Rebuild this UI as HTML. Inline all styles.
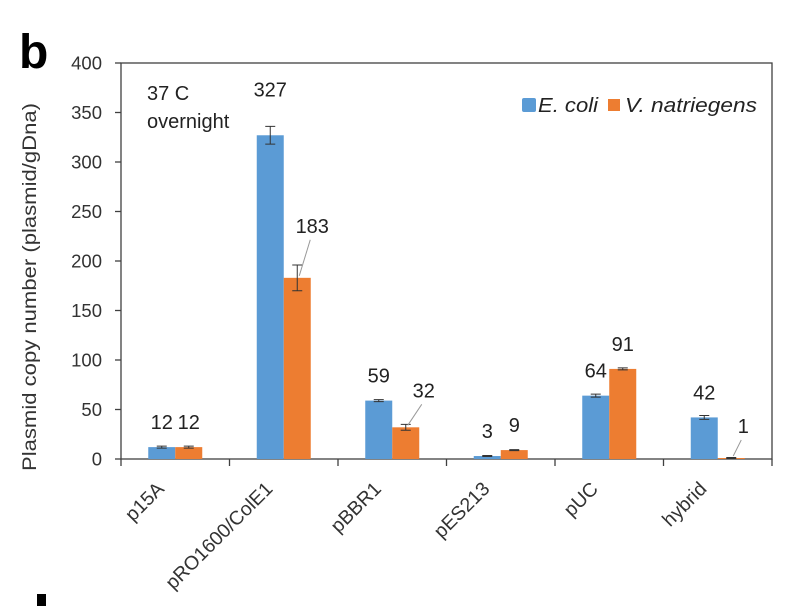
<!DOCTYPE html>
<html><head><meta charset="utf-8"><style>
html,body{margin:0;padding:0;background:#fff;}
svg{display:block;font-family:"Liberation Sans",Arial,sans-serif;}
</style></head><body>
<svg id="chart" width="812" height="606" viewBox="0 0 812 606" xmlns="http://www.w3.org/2000/svg">
<text x="19" y="68" font-size="48" font-weight="bold" fill="#000">b</text>
<rect x="37" y="594" width="9" height="12" fill="#000"/>
<g id="plot"></g>
</svg>
<script>
const categories = ["p15A","pRO1600/ColE1","pBBR1","pES213","pUC","hybrid"];
const ecoli = [12,327,59,3,64,42];
const vnat = [12,183,32,9,91,1];
const ecoliErr = [1,9,1,0.5,1.5,2];
const vnatErr = [1,13,3,0.5,1,0.5];
const ecoliLabels = ["12","327","59","3","64","42"];
const vnatLabels = ["12","183","32","9","91","1"];
const yTicks = [0,50,100,150,200,250,300,350,400];

const NS="http://www.w3.org/2000/svg";
const L=121,R=772,T=63,B=459,YMAX=400;
const g=document.getElementById('plot');
const y=v=>B-(v/YMAX)*(B-T);
const band=(R-L)/categories.length;
const cx=i=>L+band*(i+0.5);
const BW=27;
function mk(tag,attrs,parent){const e=document.createElementNS(NS,tag);for(const k in attrs)e.setAttribute(k,attrs[k]);(parent||g).appendChild(e);return e;}

const frame=mk('rect',{x:L,y:T,width:R-L,height:B-T,fill:'none',stroke:'#404040','stroke-width':1.3});



yTicks.forEach(v=>{
  const t=mk('line',{x1:L-6,x2:L,y1:y(v),y2:y(v),stroke:'#404040','stroke-width':1.3});
  
  
  const tx=mk('text',{x:L-19,y:y(v)+6.5,'text-anchor':'end','font-size':18.5,fill:'#333'});
  tx.textContent=v;
  
  
});
for(let i=0;i<=categories.length;i++){
  const x=L+band*i;
  const t=mk('line',{x1:x,x2:x,y1:B,y2:B+7,stroke:'#404040','stroke-width':1.3});
  
  
}
const yt=mk('text',{x:0,y:0,'text-anchor':'middle','font-size':19,fill:'#333',textLength:368,lengthAdjust:'spacingAndGlyphs',transform:`translate(36,287) rotate(-90)`});
yt.textContent='Plasmid copy number (plasmid/gDna)';



function bar(i,v,err,lbl,color,xoff,name){
  const x0=cx(i)+xoff;
  const r=mk('rect',{x:x0,y:y(v),width:BW,height:B-y(v),fill:color});
  
  
  const mx=x0+BW/2;
  const e=mk('path',{d:`M${mx},${y(v+err)}V${y(v-err)}M${mx-5},${y(v+err)}H${mx+5}M${mx-5},${y(v-err)}H${mx+5}`,stroke:'#333','stroke-width':1,fill:'none'});
  
  
  let ly=y(v)-18, lx=mx, leader=false;
  if(xoff<0 && err>5){ ly=y(v+err)-30; }
  if(xoff>=0){
    if(v>150){ lx=mx+15; ly=y(v)-45; leader=true; }
    else if(v>20 && v<40){ lx=mx+18; ly=y(v)-30; leader=true; }
    else if(v<3){ lx=mx+12; ly=y(v)-25; leader=true; }
  }
  if(leader){
    const ln=mk('line',{x1:mx+2,y1:y(v)-2,x2:lx-2,y2:ly+7,stroke:'#999','stroke-width':1});
    
    
  }
  const t=mk('text',{x:lx,y:ly,'text-anchor':'middle','font-size':20,fill:'#222'});
  t.textContent=lbl;
  
  
}
categories.forEach((c,i)=>{
  bar(i,ecoli[i],ecoliErr[i],ecoliLabels[i],'#5b9bd5',-BW,'bar-ecoli-'+i);
  bar(i,vnat[i],vnatErr[i],vnatLabels[i],'#ed7d31',0,'bar-vnat-'+i);
  const t=mk('text',{x:0,y:0,'text-anchor':'end','font-size':19.5,fill:'#333',transform:`translate(${cx(i)-10},${B+31}) rotate(-45)`});
  t.textContent=c;
  
  
});

const a1=mk('text',{x:147,y:100,'font-size':20,fill:'#222'});a1.textContent='37 C';


const a2=mk('text',{x:147,y:128,'font-size':20,fill:'#222'});a2.textContent='overnight';



const lg=mk('g',{});


const s1=mk('rect',{x:522,y:98,width:14,height:14,rx:2,fill:'#5b9bd5'},lg);


const l1=mk('text',{x:538,y:112,'font-size':20,'font-style':'italic',fill:'#222',textLength:60,lengthAdjust:'spacingAndGlyphs'},lg);l1.textContent='E. coli';


const s2=mk('rect',{x:608,y:99,width:12,height:12,fill:'#ed7d31'},lg);


const l2=mk('text',{x:625,y:112,'font-size':20,'font-style':'italic',fill:'#222',textLength:132,lengthAdjust:'spacingAndGlyphs'},lg);l2.textContent='V. natriegens';


</script>
</body></html>
